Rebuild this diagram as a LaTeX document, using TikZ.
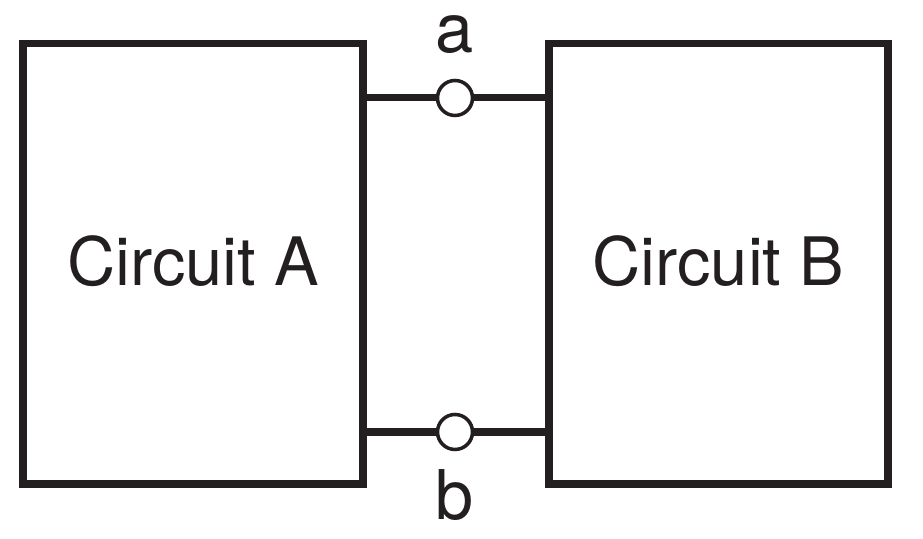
\documentclass[tikz,border=0pt]{standalone}
\usepackage{fontspec}
\setmainfont{TeX Gyre Heros}
\usetikzlibrary{positioning}
\definecolor{inkDark}{HTML}{231F20}

\begin{document}
\begin{tikzpicture}[
  box/.style={draw=inkDark,line width=4pt,minimum height=8.8cm,
    align=center,font=\fontsize{38}{46}\selectfont,text=inkDark,inner sep=0pt},
  term/.style={circle,draw=inkDark,fill=white,line width=2pt,
    minimum size=0.7cm,inner sep=0pt},
  lbl/.style={font=\fontsize{39}{46}\selectfont,text=inkDark,inner sep=0pt},
  wire/.style={draw=inkDark,line width=4pt}
]
  \useasboundingbox (0,0) rectangle (18.46,10.78);

  \node[box,minimum width=6.8cm] (circA) at (3.86,5.5) {\raisebox{0.14cm}{Circuit A}};
  \node[box,minimum width=6.78cm] (circB) at (14.37,5.5) {\raisebox{0.14cm}{Circuit B}};

  \node[term] (ta) at (9.1,8.82) {};
  \node[term] (tb) at (9.1,2.14) {};

  \node[lbl] (la) at (9.1,10.08) {a};
  \node[lbl] (lb) at (9.1,0.88) {b};

  \draw[wire] (ta.west) -- (ta.west -| circA.east);
  \draw[wire] (ta.east) -- (ta.east -| circB.west);
  \draw[wire] (tb.west) -- (tb.west -| circA.east);
  \draw[wire] (tb.east) -- (tb.east -| circB.west);
\end{tikzpicture}
\end{document}
